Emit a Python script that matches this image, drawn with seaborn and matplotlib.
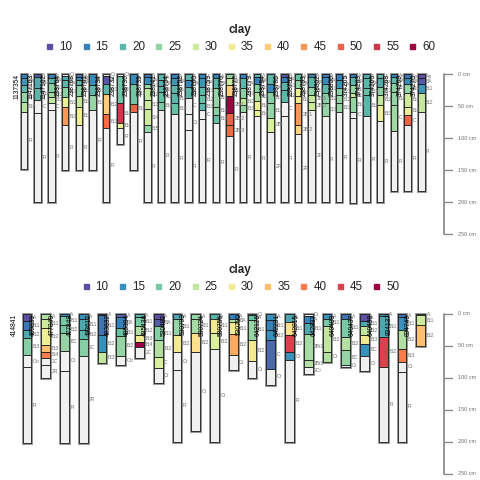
import numpy as np
import matplotlib
matplotlib.use("Agg")
import matplotlib.pyplot as plt
from matplotlib.lines import Line2D
import seaborn as sns

# reversed brewer Spectral (10), ramped like aqp does
SPECTRAL = ['#5E4FA2', '#3288BD', '#66C2A5', '#ABDDA4', '#E6F598',
            '#FEE08B', '#FDAE61', '#F46D43', '#D53E4F', '#9E0142']
NA_COL = '#F0F0F0'
N = None

# ---- top collection ----
top_ids = ['1137354', '1147163', '1147162', '238764', '238768', '238761', '238734',
           '238732', '238736', '238739', '238741', '238754', '238752', '238760',
           '238759', '238770', '238777', '238779', '238784', '238786', '238792',
           '238793', '238802', '238806', '374265', '374263', '374266', '374268',
           '374269', '374270']
top_depths = [
    [0, 7, 17, 28, 43, 60, 149], [0, 5, 22, 40, 61, 200], [0, 7, 14, 28, 36, 45, 57, 200],
    [0, 3, 10, 20, 36, 52, 80, 150], [0, 4, 9, 17, 35, 51, 80, 150], [0, 17, 33, 57, 150],
    [0, 3, 15, 32, 63, 85, 200], [0, 3, 46, 76, 85, 109], [0, 15, 47, 60, 150],
    [0, 5, 15, 22, 41, 55, 80, 90, 200], [0, 10, 19, 28, 43, 56, 200], [0, 7, 17, 30, 46, 63, 200],
    [0, 9, 20, 37, 62, 88, 200], [0, 7, 20, 33, 46, 57, 71, 200], [0, 7, 22, 51, 64, 76, 200],
    [0, 7, 17, 35, 61, 79, 97, 200], [0, 7, 22, 38, 48, 60, 200], [0, 4, 15, 28, 42, 57, 65, 200],
    [0, 15, 28, 46, 68, 90, 200], [0, 4, 12, 25, 43, 65, 200], [0, 9, 22, 35, 46, 79, 94, 200],
    [0, 5, 20, 33, 43, 56, 200], [0, 4, 15, 30, 46, 66, 200], [0, 10, 22, 33, 46, 60, 200],
    [0, 5, 17, 30, 36, 59, 68, 201], [0, 7, 22, 33, 66, 200], [0, 7, 20, 33, 48, 74, 200],
    [0, 5, 14, 28, 48, 89, 183], [0, 7, 16, 30, 51, 64, 80, 183], [0, 7, 15, 30, 59, 183]]
top_clay = [
    [15, 17, 20, 25, 28, N], [11, 19, 20, N, N], [15, 20, 24, 26, 29, N, N],
    [N, 19, 20, 24, 33, 45, N], [14, 16, 20, 24, 29, 34, N], [16, 20, 25, N],
    [N, 11, 20, 40, 49, N], [N, 22, 55, 34, N], [16, 22, 50, N],
    [14, 16, 25, 29, 30, 30, 25, N], [20, 19, 20, 21, 23, N], [15, 17, 20, 20, 21, N],
    [20, 16, 20, N, N, N], [15, 17, 20, 21, 20, N, N], [15, 20, 25, 24, 21, N],
    [25, 30, 40, 60, 50, 49, N], [15, 20, 24, 29, 25, N], [20, 15, 24, 27, 34, 33, N],
    [20, 16, 24, 25, 31, N], [11, 15, 20, 20, N, N], [21, 25, 33, 35, 45, 39, N],
    [15, 20, 25, 29, 30, N], [14, 16, 20, 24, 25, N], [15, 17, 24, 25, 25, N],
    [15, 20, 25, 29, 25, N, N], [19, 20, 21, 20, N], [20, 19, 24, 29, 34, N],
    [15, 20, 24, 25, 26, N], [14, 16, 25, 30, 34, 50, N], [10, 11, 17, 29, N]]
top_names = [
    ['A', 'BA', 'Bt1', 'Bt2', 'Bt3', 'R'], ['A', 'Bt1', 'Bt2', 'C', 'R'],
    ['A', 'BA', 'Bt1', 'Bt2', 'Bt3', 'C', 'R'], ['Oi', 'A', 'BA', 'Bt1', 'Bt2', 'Bt3', 'R'],
    ['A', 'AB', 'BA', 'Bt1', 'Bt2', 'Bt3', 'R'], ['A', 'Bt1', 'Bt2', 'R'],
    ['Oi', 'A', 'Bt1', 'Bt2', 'Bt3', 'R'], ['Oi', 'Bt1', 'Bt2', 'Bt3', 'R'], ['A', 'Bt1', 'Bt2', 'R'],
    ['A', 'BA', 'Bt1', 'Bt2', 'Bt3', 'Bt4', 'Bt5', 'R'], ['A', 'BA', 'Bt1', 'Bt2', 'Bt3', 'R'],
    ['A', 'BA', 'Bt1', 'Bt2', 'Bt3', 'R'], ['A', 'BA', 'Bt', 'C', 'Cr', 'R'],
    ['A', 'BA', 'Bt1', 'Bt2', 'Bt3', 'C', 'R'], ['A', 'BA', 'Bt1', 'Bt2', 'Bt3', 'R'],
    ['A', 'Bt1', 'Bt2', '2Bt1', '2Bt2', '2Bt3', 'R'], ['A', 'BA', 'Bt1', 'Bt2', 'Bt3', 'R'],
    ['A', 'BA', 'Bt1', 'Bt2', 'Bt3', 'Bt4', 'R'], ['A', 'BA', 'Bt1', 'Bt2', '2Bt', '2R'],
    ['A', 'BA', 'Bt1', 'Bt2', 'C', 'R'], ['A', 'BA', 'Bt1', 'Bt2', '2Bt1', '2Bt2', '2R'],
    ['A', 'BA', 'Bt1', '2Bt1', '2Bt2', '2R'], ['A', 'BA', 'Bt1', 'Bt2', 'Bt3', 'R'],
    ['A', 'BA', 'Bt1', 'Bt2', 'Bt3', 'R'], ['A', 'BA', 'Bt1', 'Bt2', 'Bt3', 'C', 'R'],
    ['A', 'BA', 'Bt1', 'Bt2', 'R'], ['A', 'BA', 'Bt1', 'Bt2', 'Bt3', 'R'],
    ['Ap', 'BA', 'Bt1', 'Bt2', 'C', 'R'], ['Ap', 'BA', 'Bt1', 'Bt2', 'Bt3', 'C', 'R'],
    ['Ap', 'BA', 'Bt1', 'Bt2', 'R']]
top_breaks = [10, 15, 20, 25, 30, 35, 40, 45, 50, 55, 60]

# ---- bottom collection ----
bot_ids = ['414841', '469839', '477849', '477848', '483612', '483632', '485394', '485436',
           '530482', '530793', '530724', '530756', '530790', '642126', '642231', '642815',
           '642837', '640403', '640437', '640498', '834137', '834749']
bot_depths = [
    [0, 11, 26, 39, 65, 84, 203], [0, 9, 22, 49, 60, 69, 80, 100], [0, 4, 18, 31, 58, 90, 203],
    [0, 8, 26, 40, 66, 203], [0, 3, 33, 60, 78], [0, 5, 23, 35, 66, 80],
    [0, 5, 19, 33, 44, 52, 70], [0, 8, 20, 41, 68, 85, 109], [0, 8, 33, 60, 89, 200],
    [0, 8, 30, 60, 183], [0, 8, 31, 55, 200], [0, 9, 14, 32, 65, 89],
    [0, 3, 10, 41, 74, 100], [0, 10, 26, 42, 87, 111], [0, 14, 33, 60, 73, 200],
    [0, 4, 15, 32, 72, 84, 95], [0, 8, 20, 60, 75], [0, 9, 36, 57, 80, 83],
    [0, 11, 20, 34, 48, 66, 90], [0, 4, 36, 84, 200], [0, 5, 26, 55, 75, 92, 200], [0, 3, 18, 50]]
bot_clay = [
    [10, 13, 17, 21, N, N], [24, 26, 29, 35, 40, N, N], [15, 20, 20, 22, N, N],
    [15, 17, 18, 21, N], [12, 13, 15, 25], [12, 14, 19, 22, N],
    [18, 20, 24, 30, 50, N], [10, 11, 21, 24, 27, N], [17, 22, 30, N, N],
    [22, 23, 32, N], [18, 30, 27, N], [14, 24, 30, 37, N],
    [N, 19, 22, 30, N], [15, 14, 15, 12, N], [17, 32, 45, 15, N],
    [N, 14, 17, 23, 24, N], [15, 20, 25, 24], [13, 20, 24, 22, N],
    [10, 17, 25, 30, 15, N], [15, 17, 45, N], [13, 15, 24, 40, N, N], [20, 26, 35]]
bot_names = [
    ['A', 'Bt1', 'Bt2', 'Bt3', 'Crt', 'R'], ['A', 'Bt1', 'Bt2', 'Bt3', 'Bt4', '2C', '2R'],
    ['A', 'Bt1', 'Bt2', 'BC', 'Cr', 'R'], ['A', 'Bt1', 'Bt2', '2C', '2R'], ['A', 'Bt1', 'Bt2', 'Bt3'],
    ['A', 'BA', 'Bt1', 'Bt2', 'Crt'], ['A', 'Bt1', 'Bt2', 'Bt3', 'Bt4', '2C'],
    ['A', 'BA', 'Bt1', 'Bt2', 'C', 'Cr'], ['A', 'Bt1', 'Bt2', 'Cr', 'R'], ['A', 'Bt1', 'Bt2', 'Cr'],
    ['A', 'Bt1', 'Bt2', 'Cr'], ['A', 'BA', 'Bt1', 'Bt2', 'Cr'], ['Oi', 'A', 'Bt1', 'Bt2', 'Cr'],
    ['A', 'Bt1', 'Bt2', 'C', 'Cr'], ['A', 'Bt1', 'Bt2', 'Cr', 'R'],
    ['Oi', 'A', 'Bt1', '2Bt2', '2Bt3', '2Cr'], ['A', 'Bt1', 'Bt2', 'Cr'],
    ['A', 'Bt1', 'Bt2', 'BC', 'Cr'], ['A', 'Bt1', 'Bt2', 'Bt3', 'BC', 'Cr'],
    ['A', 'Bt1', 'Bt2', 'R'], ['A', 'Bt1', 'Bt2', 'Bt3', 'Cr', 'R'], ['A', 'Bt1', 'Bt2']]
bot_breaks = [10, 15, 20, 25, 30, 35, 40, 45, 50]

depth_ticks = [0, 50, 100, 150, 200, 250]

sns.set_style("white")
plt.rcParams['font.family'] = ['Liberation Sans', 'DejaVu Sans']
cmap = sns.blend_palette(SPECTRAL, as_cmap=True)


def plot_profiles(ax, ids, depths, clay, names, breaks, sp, id_off, leg_y):
    # sp = pixels between profiles, used to turn pixel offsets into x units
    lo, hi = breaks[0], breaks[-1]
    colw = 0.47
    for i, (pid, d, c, nm) in enumerate(zip(ids, depths, clay, names)):
        d = np.asarray(d, float)
        c = np.array([np.nan if v is None else v for v in c], float)
        assert len(c) == len(d) - 1 == len(nm), pid
        cols = [NA_COL if np.isnan(v) else cmap((v - lo) / (hi - lo)) for v in c]
        ax.bar(i, d[-1], bottom=0, width=colw, fill=False, edgecolor='#8c8c8c',
               linewidth=2.0, zorder=1)
        ax.bar([i] * len(c), np.diff(d), bottom=d[:-1], width=colw, color=cols,
               edgecolor='#1a1a1a', linewidth=0.6, zorder=2)
        mids = (d[:-1] + d[1:]) / 2
        for m, n in zip(mids, nm):
            ax.text(i + colw / 2 + 1.5 / sp, m, n, fontsize=3.6, color='#707070',
                    ha='left', va='center', zorder=3)
        ax.text(i - id_off / sp, 0, pid, rotation=90, ha='center', va='top',
                fontsize=4.8, color='black', zorder=4)

    # depth axis on the right
    xa = len(ids) - 1 + 23 / sp
    ax.plot([xa, xa], [depth_ticks[0], depth_ticks[-1]], color='#8c8c8c', lw=1.3)
    for t in depth_ticks:
        ax.plot([xa, xa + 8 / sp], [t, t], color='#8c8c8c', lw=1.0)
        ax.text(xa + 14 / sp, t, f'{t} cm', fontsize=4.0, color='#707070',
                ha='left', va='center')

    # legend
    handles = [Line2D([], [], ls='', marker='s', markersize=3.6,
                      color=cmap((b - lo) / (hi - lo))) for b in breaks]
    leg = ax.legend(handles, [str(b) for b in breaks], ncol=len(breaks), title='clay',
                    loc='lower center', frameon=False, fontsize=8.4, title_fontsize=8.4,
                    handlelength=0.8, handletextpad=0.45, columnspacing=0.75,
                    bbox_to_anchor=(0.5, leg_y), borderaxespad=0.0)
    leg.get_title().set_fontweight('bold')
    ax.axis('off')


fig = plt.figure(figsize=(4.8, 4.8), dpi=100)

# top: profiles every 13.7 px from x=24, depth 0 at y=74, 0.64 px / cm
sp1 = 13.7
ax1 = fig.add_axes([0, 1 - 250 / 480, 1, 195 / 480])
ax1.set_xlim(-24 / sp1, (480 - 24) / sp1)
ax1.set_ylim((250 - 74) / 0.64, (55 - 74) / 0.64)
plot_profiles(ax1, top_ids, top_depths, top_clay, top_names, top_breaks, sp1, 7,
              1 - 3 / 195)

# bottom: profiles every 18.75 px from x=27, depth 0 at y=313.5
sp2 = 18.75
ax2 = fig.add_axes([0, 0, 1, 185 / 480])
ax2.set_xlim(-27 / sp2, (480 - 27) / sp2)
ax2.set_ylim((480 - 313.5) / 0.64, (295 - 313.5) / 0.64)
plot_profiles(ax2, bot_ids, bot_depths, bot_clay, bot_names, bot_breaks, sp2, 12.5,
              1 - 3 / 185)

fig.savefig('out.png', dpi=100)
